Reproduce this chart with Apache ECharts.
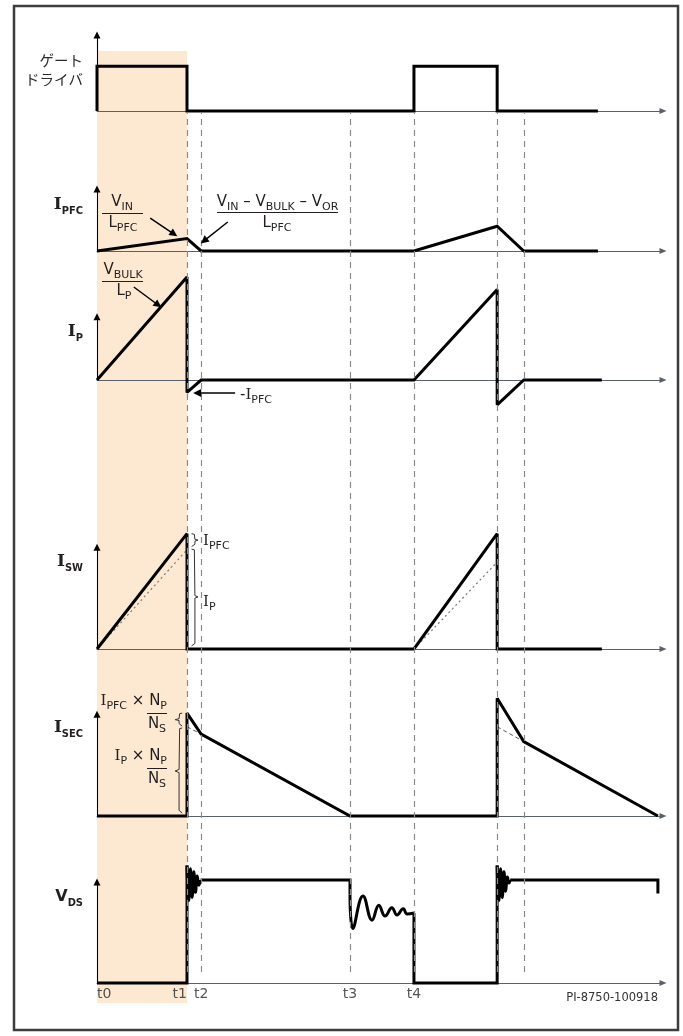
<!DOCTYPE html>
<html><head><meta charset="utf-8">
<script src="https://cdn.jsdelivr.net/npm/echarts@6/dist/echarts.min.js"></script>
<style>html,body{margin:0;padding:0;background:#fff}#c{width:683px;height:1036px}</style>
</head><body><div id="c"></div>
<script>
// ---------------- DATA (time in arbitrary units, t0 = 0) ----------------
const timeNames = ['t0', 't1', 't2', 't3', 't4'];
const timeValues = [0, 15.9, 18.4, 44.7, 56.0];
const edgeTimes = [15.9, 18.4, 44.7, 56.0, 70.7, 75.4];
const shadeSpan = [[0, 1], [15.9, 1]];

const gateDrive = [[0,0],[0,1],[15.9,1],[15.9,0],[56,0],[56,1],[70.7,1],[70.7,0],[88.5,0]];
const iPfc = [[0,0],[15.9,1],[18.4,0],[56,0],[70.7,2],[75.4,0],[88.5,0]];
const iP = [[0,0],[15.9,8.3],[15.9,-1],[18.4,0],[56,0],[70.7,7.3],[70.7,-2],[75.4,0],[89.2,0]];
const iSw = [[0,0],[15.9,9.3],[15.9,0],[56,0],[70.7,9.3],[70.7,0],[89.2,0]];
const iSwPrimaryA = [[0,0],[15.9,8.0]];
const iSwPrimaryB = [[56,0],[70.7,7.0]];
const iSec = [[0,0],[15.9,0],[15.9,8.3],[18.4,6.6],[44.7,0],[70.7,0],[70.7,9.5],[75.4,6.0],[99.1,0]];
const iSecRefA = [[15.9,7.2],[18.4,6.6]];
const iSecRefB = [[70.7,7.2],[75.4,6.0]];
const vdsRiseA = [[0,0],[15.9,0],[15.9,11.4]];
const vdsTurnOnA = [[15.9,11.4],[16.2,8.0],[16.5,11.1],[16.8,8.3],[17.1,10.8],[17.4,8.8],[17.7,10.4],[18.0,9.5],[18.3,10.0]];
const vdsFlatA = [[18.3,10.0],[44.7,10.0],[44.7,8.6]];
const vdsRing = [[44.7,8.6],[45.2,5.3],[47.0,8.45],[48.6,6.1],[49.8,7.55],[50.9,6.5],[52.1,7.3],[53.0,6.6],[54.1,7.2],[54.8,6.7],[56.0,6.8]];
const vdsRiseB = [[56.0,6.8],[56.0,0],[70.7,0],[70.7,11.4]];
const vdsTurnOnB = [[70.7,11.4],[71.0,8.0],[71.3,11.1],[71.6,8.3],[71.9,10.8],[72.2,8.9],[72.5,10.3],[72.8,9.7],[73.0,10.0]];
const vdsFlatB = [[73.0,10.0],[99.1,10.0],[99.1,8.7]];

// annotation arrows [from, to]
const arrowPfcRise = [[9.4,2.66],[13.6,1.37]];
const arrowPfcFall = [[23.1,2.34],[18.9,0.81]];
const arrowPRise = [[6.5,7.5],[10.8,6.05]];
const arrowPNeg = [[24.4,-1.05],[17.7,-1.05]];

// braces
const braceSwPfc = [[16.7,9.3],[17.2,9.25],[17.3,9.1],[17.3,8.85],[17.85,8.78],[17.3,8.7],[17.3,8.45],[17.2,8.3],[16.7,8.25]];
const braceSwP = [[16.7,8.05],[17.2,8.0],[17.3,7.85],[17.3,4.3],[17.85,4.2],[17.3,4.1],[17.3,0.45],[17.2,0.3],[16.7,0.25]];
const braceSecPfc = [[15.05,8.3],[14.6,8.25],[14.5,8.1],[14.5,7.85],[13.8,7.77],[14.5,7.7],[14.5,7.45],[14.6,7.3],[15.05,7.25]];
const braceSecP = [[15.05,7.1],[14.6,7.05],[14.5,6.9],[14.5,3.75],[13.8,3.63],[14.5,3.5],[14.5,0.45],[14.6,0.3],[15.05,0.24]];

// ---------------- LAYOUT ----------------
const P = {
  gate: {y0:111, s:44.7, min:-0.2, max:1.9, top:1.7},
  pfc:  {y0:251, s:12.4, min:-0.5, max:5.5, top:5.0},
  p:    {y0:380, s:12.4, min:-3, max:9.5, top:5.1},
  sw:   {y0:649, s:12.4, min:-0.5, max:10, top:8.2},
  sec:  {y0:816, s:12.4, min:-0.5, max:10.2, top:8.2},
  vds:  {y0:983, s:10.3, min:-0.5, max:12, top:9.8}
};
const order = ['gate','pfc','p','sw','sec','vds'];
const FS = "'DejaVu Sans', Verdana, sans-serif";
const FSERIF = "'DejaVu Serif', serif";
const FCOND = "'DejaVu Sans Condensed', 'DejaVu Sans', sans-serif";
const FJP = "'Noto Sans CJK JP', sans-serif";
const INK = '#231f20';

const grid = order.map(k => ({left:97, right:20, top:P[k].y0 - P[k].max*P[k].s, height:(P[k].max-P[k].min)*P[k].s, outerBoundsMode:'none'}))
  .concat([{left:97, right:20, top:51, height:952, outerBoundsMode:'none'}, {left:97, right:20, top:112, height:860, outerBoundsMode:'none'}]);

const xAxis = grid.map((g, i) => ({
  gridIndex:i, type:'value', min:0, max:100, show: i < 6,
  axisLine:{show:true, onZero:true, symbol:['none','triangle'], symbolSize:[6,7], lineStyle:{color:'#59606b', width:1}},
  axisTick:{show:false}, axisLabel:{show:false}, splitLine:{show:false}
}));
const yAxis = grid.map((g, i) => i < 6
  ? {gridIndex:i, type:'value', min:P[order[i]].min, max:P[order[i]].max, show:false}
  : {gridIndex:i, type:'value', min:0, max:1, show:false});

function sig(gi, data, extra) {
  return Object.assign({type:'line', xAxisIndex:gi, yAxisIndex:gi, data, symbol:'none', showSymbol:false,
    clip:false, silent:true, z:3, lineStyle:{color:'#000', width:3, join:'miter', miterLimit:2}}, extra || {});
}
function thin(gi, data, lineStyle) {
  return {type:'line', xAxisIndex:gi, yAxisIndex:gi, data, symbol:'none', showSymbol:false, clip:false, silent:true, z:2, lineStyle};
}
function arrows(gi, pairs, size, width) {
  return {type:'line', xAxisIndex:gi, yAxisIndex:gi, data:[[0,0]], symbol:'none', showSymbol:false, silent:true, z:2,
    lineStyle:{width:0},
    markLine:{silent:true, animation:false, symbol:['none','triangle'], symbolSize:size, label:{show:false},
      emphasis:{disabled:true}, lineStyle:{color:'#000', width:width, type:'solid'},
      data: pairs.map(p => [{coord:p[0]}, {coord:p[1]}])}};
}
const ringStyle = {color:'#000', width:3, join:'round'};

const series = [
  {type:'line', xAxisIndex:6, yAxisIndex:6, data:shadeSpan, symbol:'none', showSymbol:false, silent:true, z:-1,
    lineStyle:{width:0}, areaStyle:{color:'#fde9d1', opacity:1}},
  {type:'line', xAxisIndex:7, yAxisIndex:7, data:[[0,0]], symbol:'none', showSymbol:false, silent:true, z:1, lineStyle:{width:0},
    markLine:{silent:true, animation:false, symbol:['none','none'], label:{show:false}, emphasis:{disabled:true},
      lineStyle:{type:[6,5], color:'#8a8a8a', width:1.2}, data: edgeTimes.map(t => ({xAxis:t}))}},
  sig(0, gateDrive), sig(1, iPfc), sig(2, iP), sig(3, iSw), sig(4, iSec),
  sig(5, vdsRiseA), sig(5, vdsTurnOnA, {smooth:0.5, lineStyle:ringStyle}), sig(5, vdsFlatA),
  sig(5, vdsRing, {smooth:0.45, lineStyle:ringStyle}),
  sig(5, vdsRiseB), sig(5, vdsTurnOnB, {smooth:0.5, lineStyle:ringStyle}), sig(5, vdsFlatB),
  thin(3, iSwPrimaryA, {color:'#7a7a7a', width:1.2, type:[2,3]}),
  thin(3, iSwPrimaryB, {color:'#7a7a7a', width:1.2, type:[2,3]}),
  thin(4, iSecRefA, {color:'#555', width:1, type:[4,3]}),
  thin(4, iSecRefB, {color:'#555', width:1, type:[4,3]}),
  thin(3, braceSwPfc, {color:'#333', width:1}),
  thin(3, braceSwP, {color:'#333', width:1}),
  thin(4, braceSecPfc, {color:'#333', width:1}),
  thin(4, braceSecP, {color:'#333', width:1}),
  arrows(1, [arrowPfcRise, arrowPfcFall], 8, 1.5),
  arrows(2, [arrowPRise, arrowPNeg], 8, 1.5),
  {type:'scatter', xAxisIndex:5, yAxisIndex:5, symbolSize:0, silent:true, z:4,
    data: timeValues.map((t, i) => ({value:[t, 0], name:timeNames[i], label:{align: i === 0 ? 'left' : (i === 1 ? 'right' : 'center')}})),
    label:{show:true, position:'bottom', distance:4, formatter:'{b}', fontSize:14, color:'#2b2b2b', fontFamily:FS}}
];
order.forEach((k, i) => series.push(arrows(i, [[[0,0],[0,P[k].top]]], 7, 1.1)));

// ---------------- TEXT ----------------
const richAnn = {
  m:{fontSize:15, fontFamily:FS, lineHeight:22},
  i:{fontSize:15, fontFamily:FSERIF, lineHeight:22},
  s:{fontSize:11, fontFamily:FS, lineHeight:11, verticalAlign:'bottom'}
};
const richLbl = {
  i:{fontSize:17, fontWeight:'bold', fontFamily:FSERIF, lineHeight:24},
  v:{fontSize:16, fontWeight:'bold', fontFamily:FS, lineHeight:24},
  s:{fontSize:11, fontWeight:'bold', fontFamily:FCOND, lineHeight:11, verticalAlign:'bottom'}
};
function T(x, y, text, rich, align, extra) {
  return {type:'text', x, y, silent:true, z:10, style:Object.assign({text, rich, fill:INK, fontFamily:FS, fontSize:15,
    align:align || 'left', verticalAlign:'middle', textAlign:align || 'left', textVerticalAlign:'middle'}, extra || {})};
}
function bar(x1, x2, y) {
  return {type:'line', silent:true, z:10, shape:{x1, y1:y, x2, y2:y}, style:{stroke:INK, lineWidth:1}};
}
const graphics = [
  {type:'rect', silent:true, z:20, shape:{x:14, y:6, width:664, height:1024}, style:{fill:'none', stroke:'#3d3d3d', lineWidth:2.5}},
  T(83, 60, 'ゲート', null, 'right', {fontFamily:FJP, fontSize:14.5, fill:'#2b2b2b'}),
  T(83, 79, 'ドライバ', null, 'right', {fontFamily:FJP, fontSize:14.5, fill:'#2b2b2b'}),
  T(83, 205, '{i|I}{s|PFC}', richLbl, 'right'),
  T(83, 332, '{i|I}{s|P}', richLbl, 'right'),
  T(83, 562, '{i|I}{s|SW}', richLbl, 'right'),
  T(83, 728, '{i|I}{s|SEC}', richLbl, 'right'),
  T(83, 897, '{v|V}{s|DS}', richLbl, 'right'),
  T(122, 202, '{m|V}{s|IN}', richAnn, 'center'), bar(102, 143, 213.5), T(123, 223, '{m|L}{s|PFC}', richAnn, 'center'),
  T(277.5, 202, '{m|V}{s|IN}{m| – V}{s|BULK}{m| – V}{s|OR}', richAnn, 'center'), bar(217, 338, 212.5),
  T(277, 223, '{m|L}{s|PFC}', richAnn, 'center'),
  T(123, 270, '{m|V}{s|BULK}', richAnn, 'center'), bar(102, 143, 281.5), T(124, 291, '{m|L}{s|P}', richAnn, 'center'),
  T(240, 395, '{m|-}{i|I}{s|PFC}', richAnn, 'left'),
  T(203, 541, '{i|I}{s|PFC}', richAnn, 'left'),
  T(203, 602, '{i|I}{s|P}', richAnn, 'left'),
  T(167, 701, '{i|I}{s|PFC}{m| × N}{s|P}', richAnn, 'right'), bar(147, 167, 713.5), T(157, 724, '{m|N}{s|S}', richAnn, 'center'),
  T(167, 756, '{i|I}{s|P}{m| × N}{s|P}', richAnn, 'right'), bar(147, 167, 768.5), T(157, 779, '{m|N}{s|S}', richAnn, 'center'),
  T(658, 998, 'PI-8750-100918', null, 'right', {fontSize:11.5, fill:'#333'})
];

const chart = echarts.init(document.getElementById('c'), null, {renderer:'canvas', width:683, height:1036});
chart.setOption({animation:false, backgroundColor:'#fff', grid, xAxis, yAxis, series, graphic:{elements:graphics}});
</script></body></html>
